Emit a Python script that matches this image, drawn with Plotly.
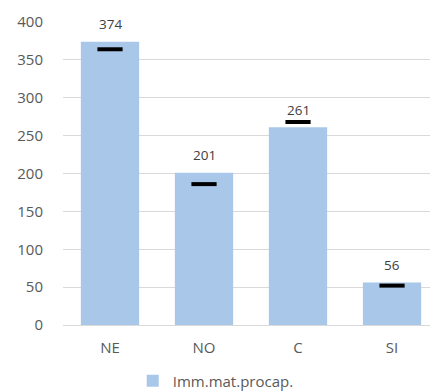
import plotly.graph_objects as go

# Regional values per area
categories = ["NE", "NO", "C", "SI"]
values = [374, 201, 261, 56]
# Reference levels shown as short black dashes
reference_levels = [364, 186, 268, 52]
series_name = "Imm.mat.procap."
y_ticks = [0, 50, 100, 150, 200, 250, 300, 350, 400]

bar_color = "#a9c8e9"
label_color = "#404040"
tick_color = "#595959"
font_family = "Open Sans, Liberation Sans, sans-serif"

fig = go.Figure()

fig.add_trace(go.Bar(
    x=categories,
    y=values,
    name=series_name,
    marker=dict(color=bar_color, line=dict(width=0)),
    width=0.62,
    hoverinfo="x+y",
))

fig.add_trace(go.Scatter(
    x=categories,
    y=reference_levels,
    mode="markers",
    marker=dict(symbol="line-ew", size=18, line=dict(color="black", width=4)),
    showlegend=False,
    hoverinfo="x+y",
))

for cat, val in zip(categories, values):
    fig.add_annotation(
        x=cat, y=val, text=str(val), showarrow=False,
        yshift=17.5, yanchor="middle",
        font=dict(family=font_family, size=13.5, color=label_color),
    )

fig.update_layout(
    width=430,
    height=392,
    margin=dict(l=63, r=0, t=22, b=67, autoexpand=False),
    paper_bgcolor="white",
    plot_bgcolor="white",
    font=dict(family=font_family, size=15, color=tick_color),
    showlegend=True,
    legend=dict(
        orientation="h",
        x=0.19, xanchor="left",
        y=-0.185, yanchor="middle",
        font=dict(family=font_family, size=15, color=tick_color),
        bgcolor="rgba(0,0,0,0)",
    ),
    xaxis=dict(
        range=[-0.5, 3.404],
        showgrid=False,
        showline=True,
        linecolor="#d9d9d9",
        linewidth=1,
        ticks="outside",
        ticklen=9,
        tickcolor="rgba(0,0,0,0)",
        tickfont=dict(family=font_family, size=15, color=tick_color),
        fixedrange=True,
    ),
    yaxis=dict(
        range=[0, 400],
        tickvals=y_ticks,
        showgrid=True,
        gridcolor="#d9d9d9",
        gridwidth=1,
        zeroline=False,
        ticks="outside",
        ticklen=16,
        tickcolor="rgba(0,0,0,0)",
        tickfont=dict(family=font_family, size=15, color=tick_color),
        fixedrange=True,
    ),
)

fig.write_html("out.html")
